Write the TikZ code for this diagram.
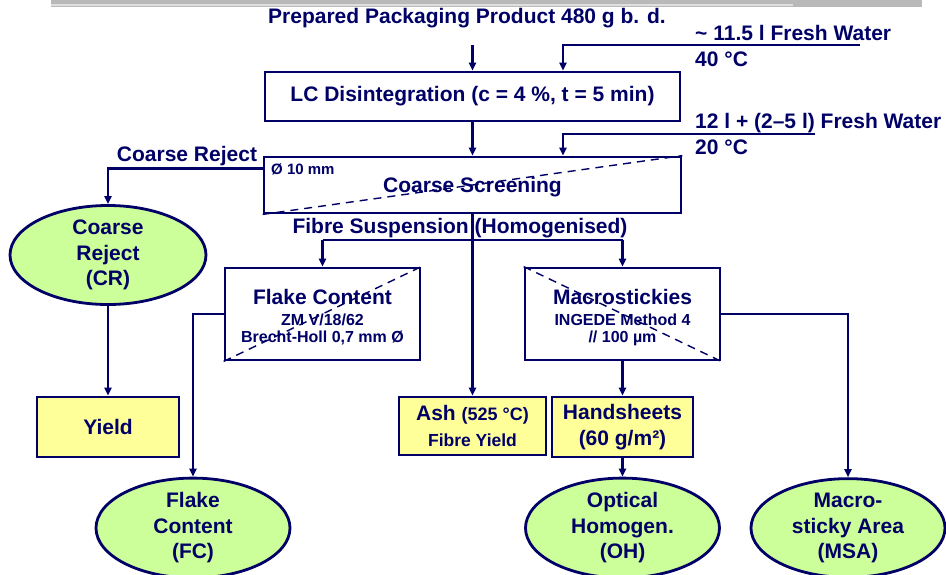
\documentclass[tikz,border=0pt]{standalone}
\usepackage{fontspec}
\setmainfont{Liberation Sans}
\usetikzlibrary{shapes.geometric,arrows.meta,calc}
\definecolor{navy}{RGB}{0,0,102}
\definecolor{yfill}{RGB}{255,255,153}
\definecolor{gfill}{RGB}{204,255,153}
\newcommand\myfs[2]{\fontsize{#1}{#2}\selectfont}
\begin{document}
\begin{tikzpicture}[x=1pt,y=-1pt,
 every node/.style={text=navy,font=\bfseries\myfs{21}{25.5}},
 box/.style={draw=navy,line width=2.8pt,fill=white,inner sep=0pt,align=center},
 ybox/.style={box,fill=yfill},
 ell/.style={ellipse,draw=navy,line width=2.8pt,fill=gfill,inner sep=0pt,align=center},
 conn/.style={draw=navy,line width=2.6pt,-{Triangle[length=8pt,width=7pt]}},
 plain/.style={draw=navy,line width=2.6pt},
 diag/.style={draw=navy,line width=1.4pt,dash pattern=on 8pt off 6pt},
 lbl/.style={inner sep=0pt},
 small/.style={inner sep=0pt,font=\bfseries\myfs{16}{18}}]
\path[use as bounding box] (0,0) rectangle (946,574);
\fill[gray!55] (51,0) rectangle (922,7);
\draw[gray!25,line width=1.2pt] (51,5) -- (793,5);

% title and LC
\node[lbl] (title) at (467,18) {Prepared Packaging Product 480 g b. d.};
\node[box,minimum width=415pt,minimum height=49pt] (lc) at (472.5,96.5) {LC Disintegration (c = 4 \%, t = 5 min)};
\coordinate (tstart) at (472.5,45);
\draw[conn] (tstart) -- (lc.north);

% water 1
\coordinate (w1e) at (860,45);
\coordinate (w1c) at (563,45);
\draw[conn] (w1e) -- (w1c) -- (w1c |- lc.north);
\node[lbl,anchor=west] (w1t) at (695,33) {\textasciitilde\ 11.5 l Fresh Water};
\node[lbl,anchor=west] (w1temp) at (695,59) {40 °C};

% coarse screening
\node[box,minimum width=417pt,minimum height=56pt] (cs) at (472.5,185) {};
\draw[diag] (cs.south west) -- (cs.north east);
\node[lbl] (cstext) at (472.5,187) {Coarse Screening};
\node[small,anchor=west,font=\bfseries\myfs{15}{17}] (mesh) at (271,169) {Ø 10 mm};
\draw[conn] (lc.south) -- (cs.north);

% water 2
\coordinate (w2e) at (815,134);
\coordinate (w2c) at (563,134);
\draw[conn] (w2e) -- (w2c) -- (w2c |- cs.north);
\node[lbl,anchor=west] (w2t) at (695,123) {12 l + (2–5 l) Fresh Water};
\node[lbl,anchor=west] (w2temp) at (695,147) {20 °C};

% coarse reject
\node[ell,minimum width=196pt,minimum height=95pt] (cr) at (108,255) {Coarse\\Reject\\(CR)};
\draw[conn] ([yshift=-13pt]cs.north west) -| (cr.north);
\node[lbl] (crt) at (187,156) {Coarse Reject};
\node[ybox,minimum width=142pt,minimum height=60pt] (yield) at (108,427) {Yield};
\draw[conn] (cr.south) -- (yield.north);

% fibre suspension
\node[ybox,minimum width=147pt,minimum height=58pt] (ash) at (472.5,426) {Ash {\myfs{18}{20}(525 °C)}\\{\myfs{17.5}{20}Fibre Yield}};
\draw[conn] (cs.south) -- (ash.north);
\node[lbl] (fibre) at (460,228) {Fibre Suspension (Homogenised)};
\coordinate (br) at (472.5,240);

% flake content box
\node[box,minimum width=195pt,minimum height=92pt] (fcb) at (322.5,314) {};
\draw[diag] (fcb.south west) -- (fcb.north east);
\node[lbl] (fcb1) at (322.5,297) {Flake Content};
\node[small] (fcb2) at (322.5,320) {ZM V/18/62};
\node[small] (fcb3) at (322.5,338) {Brecht-Holl 0,7 mm Ø};

% macrostickies box
\node[box,minimum width=195pt,minimum height=92pt] (mb) at (622.5,314) {};
\draw[diag] (mb.north west) -- (mb.south east);
\node[lbl] (mb1) at (622.5,297) {Macrostickies};
\node[small] (mb2) at (622.5,320) {INGEDE Method 4};
\node[small] (mb3) at (622.5,338) {// 100 µm};

\draw[plain] (fcb.north |- br) -- (mb.north |- br);
\draw[conn] (fcb.north |- br) -- (fcb.north);
\draw[conn] (mb.north |- br) -- (mb.north);

% handsheets
\node[ybox,minimum width=141pt,minimum height=60pt] (hs) at (622.5,427) {Handsheets\\(60 g/m²)};
\draw[conn] (mb.south) -- (hs.north);

% result ellipses
\node[ell,minimum width=194pt,minimum height=84pt] (fc) at (193,528) {Flake\\Content\\(FC)};
\node[ell,minimum width=194pt,minimum height=84pt] (oh) at (622.5,528) {Optical\\Homogen.\\(OH)};
\node[ell,minimum width=194pt,minimum height=84pt] (msa) at (848,528) {Macro-\\sticky Area\\(MSA)};
\draw[conn] (fcb.west) -| (fc.north);
\draw[conn] (mb.east) -| (msa.north);
\draw[conn] (hs.south) -- (oh.north);
\end{tikzpicture}
\end{document}
